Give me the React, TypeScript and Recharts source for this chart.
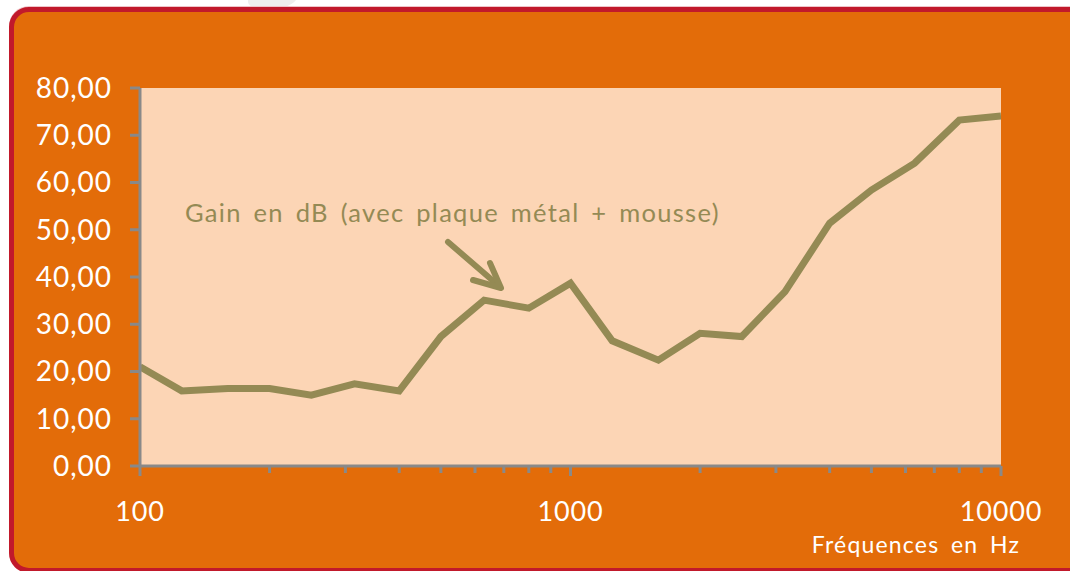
import React from 'react';
import { LineChart, Line, XAxis, YAxis, CartesianGrid } from 'recharts';

const frequencies = [100, 125, 160, 200, 250, 315, 400, 500, 630, 800, 1000, 1250, 1600, 2000, 2500, 3150, 4000, 5000, 6300, 8000, 10000];
const gainDb = [21.0, 15.9, 16.4, 16.4, 15.0, 17.4, 15.9, 27.4, 35.1, 33.4, 38.7, 26.5, 22.4, 28.1, 27.4, 36.9, 51.4, 58.4, 64.1, 73.2, 74.1];
const yTicks = [0, 10, 20, 30, 40, 50, 60, 70, 80];
const xMajorTicks = [100, 1000, 10000];
const xMinorTicks = [200, 300, 400, 500, 600, 700, 800, 900, 2000, 3000, 4000, 5000, 6000, 7000, 8000, 9000];
const seriesLabel = 'Gain en dB (avec plaque métal + mousse)';
const xAxisTitle = 'Fréquences en Hz';

const data = frequencies.map((f, i) => ({ f, gain: gainDb[i] }));
const allXTicks = [...xMajorTicks, ...xMinorTicks].sort((a, b) => a - b);

const FONT = 'Lato, "Open Sans", sans-serif';
const ORANGE = '#E36C09';
const PEACH = '#FCD5B5';
const OLIVE = '#948A54';
const GRAY = '#898989';

const XTick = (props: any) => {
  const { x, y, payload } = props;
  const major = xMajorTicks.includes(payload.value);
  return (
    <g>
      <line x1={x} y1={y} x2={x} y2={y + (major ? 10 : 7)} stroke={GRAY} strokeWidth={3} />
      {major && (
        <text x={x} y={y + 55} textAnchor="middle" fill="#ffffff" fontSize={27} fontFamily={FONT} letterSpacing={0.8}>
          {payload.value}
        </text>
      )}
    </g>
  );
};

export default function App() {
  return (
    <div style={{ position: 'absolute', left: 0, top: 0, width: 1070, height: 571, overflow: 'hidden', background: '#ffffff' }}>
      <div style={{ position: 'absolute', left: 248, top: -22, width: 50, height: 30, borderRadius: '0 0 45% 20%', background: '#eeeeee' }} />
      <div
        style={{
          position: 'absolute', left: 9, top: 7, width: 1120, height: 566, boxSizing: 'border-box',
          border: '5px solid #C1192B', borderRadius: 20, background: ORANGE, boxShadow: '0 -1px 0 #efc4c8',
        }}
      />
      <div style={{ position: 'absolute', left: 0, top: 0 }}>
        <LineChart width={1070} height={571} data={data} margin={{ top: 88, right: 69, bottom: 45, left: 40 }}>
          <CartesianGrid fill={PEACH} stroke="none" horizontal={false} vertical={false} />
          <XAxis
            dataKey="f"
            type="number"
            scale="log"
            domain={[100, 10000]}
            ticks={allXTicks}
            interval={0}
            height={60}
            tickSize={0}
            tickMargin={0}
            tickLine={false}
            tick={<XTick />}
            axisLine={{ stroke: GRAY, strokeWidth: 3 }}
            allowDataOverflow
          />
          <YAxis
            type="number"
            domain={[0, 80]}
            ticks={yTicks}
            interval={0}
            width={100}
            tickSize={10}
            tickMargin={18}
            tickFormatter={(v: number) => v.toFixed(2).replace('.', ',')}
            tick={{ fill: '#ffffff', fontSize: 28, fontFamily: FONT, letterSpacing: 1 }}
            tickLine={{ stroke: GRAY, strokeWidth: 3 }}
            axisLine={{ stroke: GRAY, strokeWidth: 3 }}
          />
          <Line
            type="linear"
            dataKey="gain"
            stroke={OLIVE}
            strokeWidth={7}
            dot={false}
            activeDot={false}
            isAnimationActive={false}
          />
        </LineChart>
      </div>
      <svg width={1070} height={571} style={{ position: 'absolute', left: 0, top: 0, pointerEvents: 'none' }}>
        <text x={185} y={222} fill={OLIVE} fontSize={25.5} fontFamily={FONT} letterSpacing={1.3} wordSpacing={4}>{seriesLabel}</text>
        <g stroke={OLIVE} strokeWidth={6} strokeLinecap="round" strokeLinejoin="round" fill="none">
          <line x1={448} y1={242} x2={499} y2={286} />
          <polyline points="490,263 501,288 473,280" />
        </g>
        <text x={1020} y={553} textAnchor="end" fill="#ffffff" fontSize={23} fontFamily={FONT} letterSpacing={1.2} wordSpacing={4.5}>{xAxisTitle}</text>
      </svg>
    </div>
  );
}
